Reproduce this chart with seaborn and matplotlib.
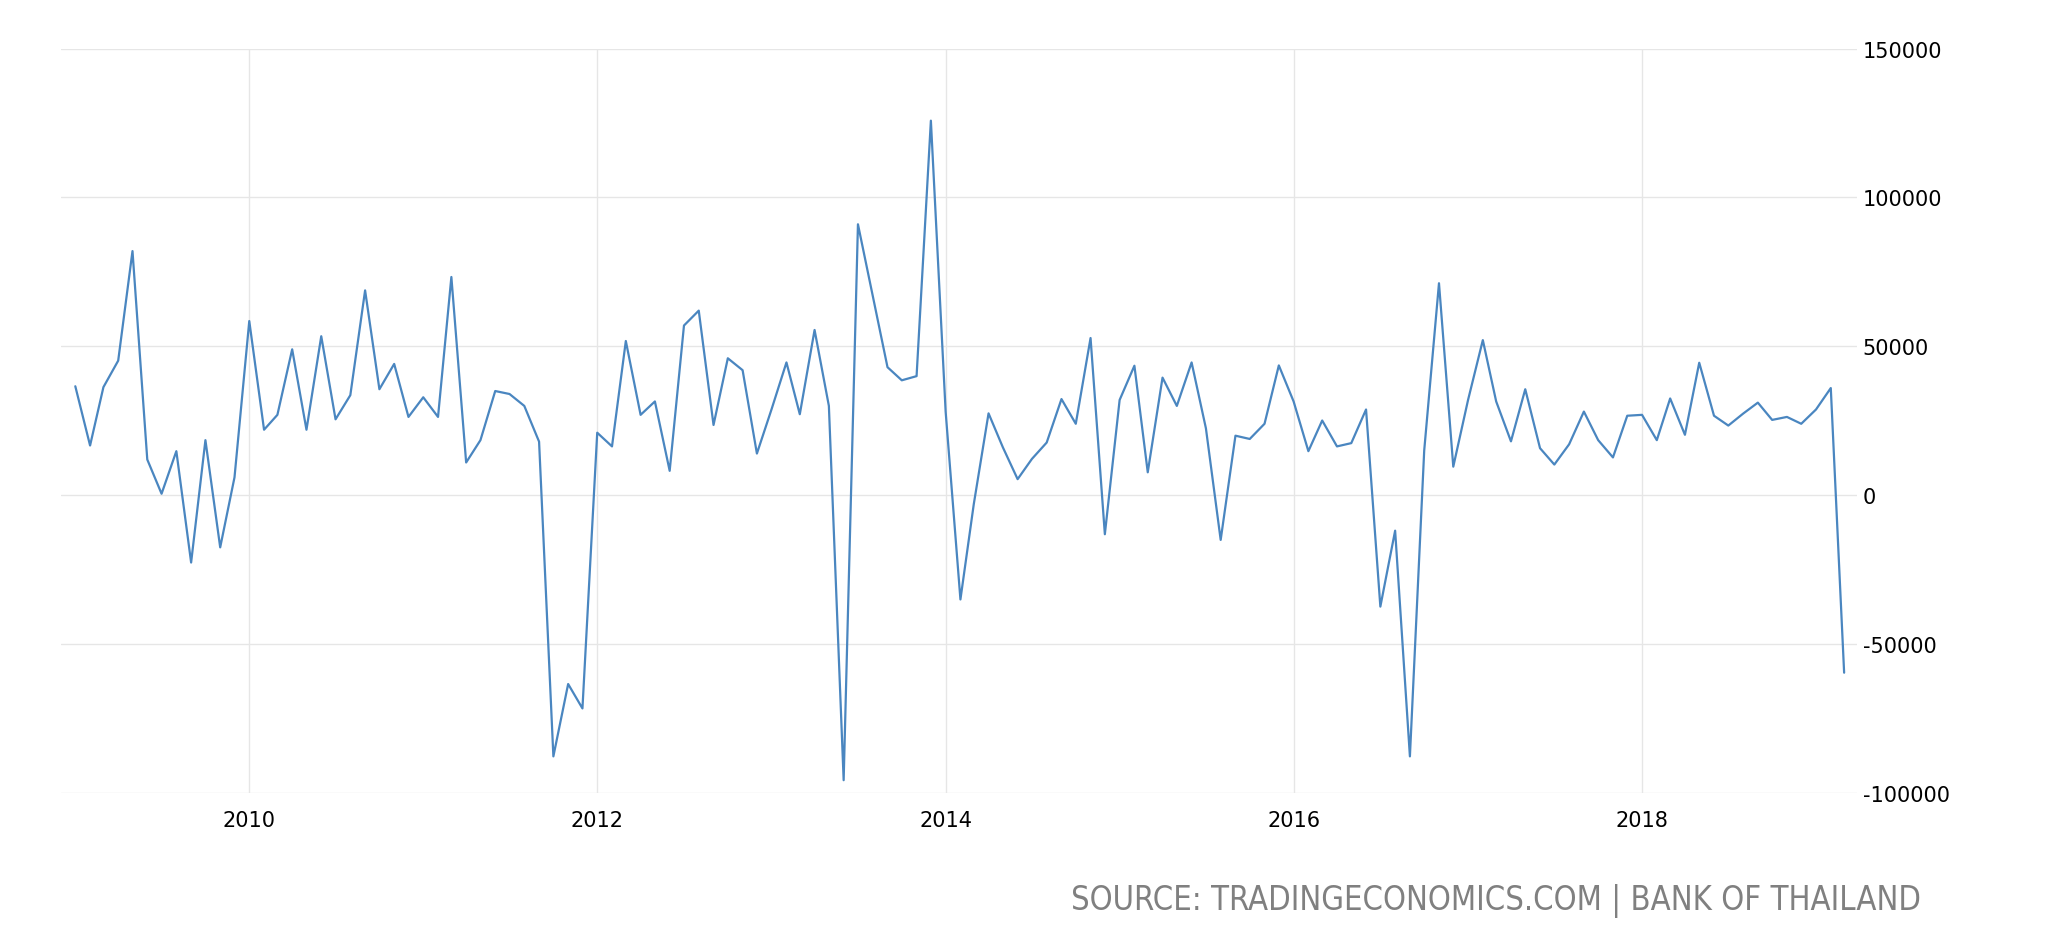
import pandas as pd
import matplotlib
matplotlib.use('Agg')
import matplotlib.pyplot as plt
import matplotlib.dates as mdates
from matplotlib import font_manager
import seaborn as sns

# monthly values Jan 2009 .. Mar 2019
vals_2009 = [36600, 16700, 36300, 45200, 82000, 12000, 500, 14800, -22600, 18500, -17500, 6000]
vals_2010 = [58500, 22000, 27000, 49000, 22000, 53400, 25500, 33600, 68800, 35600, 44100, 26300]
vals_2011 = [32900, 26300, 73300, 11000, 18500, 35000, 34000, 30000, 18000, -87700, -63400, -71600]
vals_2012 = [21000, 16400, 51800, 27000, 31500, 8200, 57000, 62000, 23600, 46000, 42000, 14000]
vals_2013 = [29000, 44600, 27200, 55500, 30000, -95700, 91000, 67000, 43000, 38600, 40000, 125800]
vals_2014 = [28000, -35000, -3000, 27500, 16100, 5400, 12200, 17700, 32300, 24000, 52800, -13100]
vals_2015 = [32000, 43500, 7700, 39500, 30000, 44600, 22500, -15000, 20000, 18900, 24000, 43600]
vals_2016 = [31500, 14800, 25100, 16400, 17500, 28800, -37400, -11900, -87700, 15000, 71200, 9600]
vals_2017 = [32000, 52100, 31500, 18100, 35600, 15800, 10300, 17100, 28100, 18500, 12700, 26700]
vals_2018 = [27000, 18500, 32500, 20300, 44500, 26700, 23400, 27400, 31100, 25300, 26300, 24000]
vals_2019 = [28800, 36000, -59600]

values = (vals_2009 + vals_2010 + vals_2011 + vals_2012 + vals_2013 + vals_2014
          + vals_2015 + vals_2016 + vals_2017 + vals_2018 + vals_2019)
dates = pd.date_range('2009-01-01', periods=len(values), freq='MS')
df = pd.DataFrame({'date': dates, 'value': values})

y_ticks = [-100000, -50000, 0, 50000, 100000, 150000]
source = 'SOURCE: TRADINGECONOMICS.COM | BANK OF THAILAND'

sns.set_style('white')
plt.rcParams['font.family'] = ['DejaVu Sans']
plt.rcParams['axes.unicode_minus'] = False

fig = plt.figure(figsize=(20.48, 9.53), dpi=100)
ax = fig.add_axes([61 / 2048, 1 - 794 / 953, (1857 - 61) / 2048, (794 - 49.6) / 953])

sns.lineplot(data=df, x='date', y='value', ax=ax, color='#4a86c0', linewidth=1.6)

ax.set_ylim(-100000, 150000)
ax.set_yticks(y_ticks)
ax.yaxis.set_major_formatter(plt.FuncFormatter(lambda v, p: f'{int(v)}'))
ax.yaxis.tick_right()
ax.set_xlim(pd.Timestamp('2008-12-02'), pd.Timestamp('2019-03-28'))
ax.xaxis.set_major_locator(mdates.YearLocator(2))
ax.xaxis.set_major_formatter(mdates.DateFormatter('%Y'))

ax.grid(True, color='#e6e6e6', linewidth=1)
for s in ax.spines.values():
    s.set_visible(False)
ax.tick_params(axis='y', length=0, pad=4, labelsize=15, labelcolor='black')
ax.tick_params(axis='x', length=6, color='#e6e6e6', pad=6, labelsize=15, labelcolor='black')
ax.set_xlabel('')
ax.set_ylabel('')

# source note in a narrow regular face if one exists, fitted to the reference width
def is_narrow(f):
    return ('Narrow' in f.name or 'Condensed' in f.name
            or str(f.stretch) in ('condensed', 'semi-condensed', '75', '87'))

def is_regular(f):
    return str(f.weight) in ('400', 'normal', 'regular', 'book') and f.style == 'normal'

narrow = [f for f in font_manager.fontManager.ttflist if is_narrow(f) and is_regular(f)]
narrow.sort(key=lambda f: 0 if 'Liberation' in f.name else 1)
if narrow:
    kw = {'fontproperties': font_manager.FontProperties(fname=narrow[0].fname)}
else:
    kw = {'family': 'DejaVu Sans'}
t = fig.text(1921 / 2048, 1 - 901 / 953, source, ha='right', va='center',
             color='#808080', **kw)
t.set_fontsize(24)
renderer = fig.canvas.get_renderer()
w = t.get_window_extent(renderer).width
t.set_fontsize(24 * 854 / w)

fig.savefig('out.png', dpi=100)
